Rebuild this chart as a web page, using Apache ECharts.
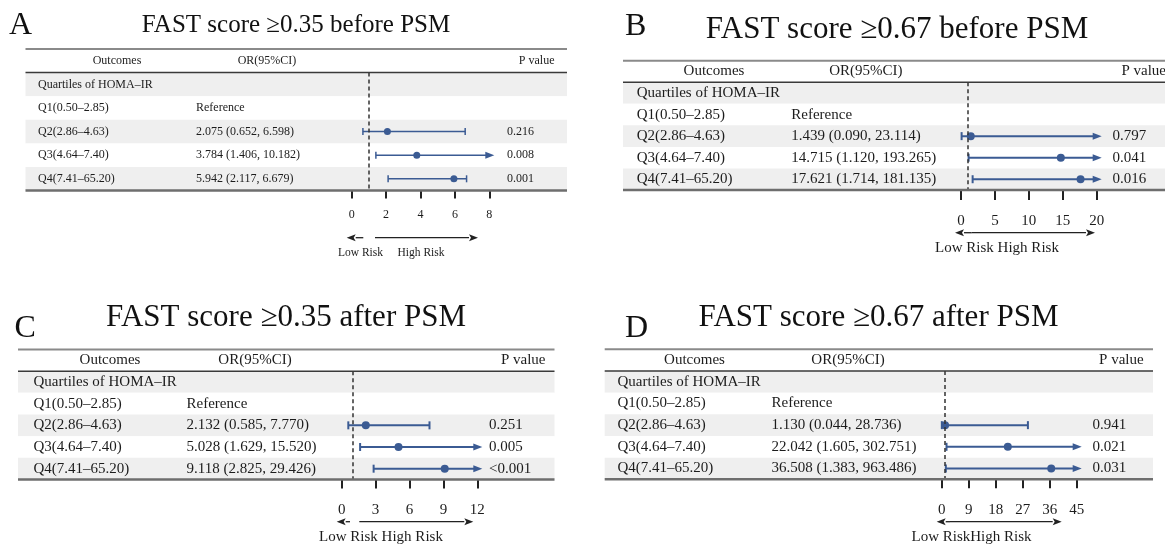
<!DOCTYPE html>
<html>
<head>
<meta charset="utf-8">
<title>Forest plots</title>
<script src="https://cdn.jsdelivr.net/npm/echarts@6/dist/echarts.min.js"></script>
<style>
  html, body { margin: 0; padding: 0; background: #fff; }
  #main { width: 1165px; height: 545px; }
</style>
</head>
<body>
<div id="main"></div>
<script>
// ---- data ----
let rowNames = ['Quartiles of HOMA–IR', 'Q1(0.50–2.85)', 'Q2(2.86–4.63)', 'Q3(4.64–7.40)', 'Q4(7.41–65.20)'];

let titleA = 'FAST score ≥0.35 before PSM';
let orA = [null, null, 2.075, 3.784, 5.942];
let loA = [null, null, 0.652, 1.406, 2.117];
let hiA = [null, null, 6.598, 10.182, 6.679];
let pA = ['', '', '0.216', '0.008', '0.001'];
let ticksA = [0, 2, 4, 6, 8];

let titleB = 'FAST score ≥0.67 before PSM';
let orB = [null, null, 1.439, 14.715, 17.621];
let loB = [null, null, 0.090, 1.120, 1.714];
let hiB = [null, null, 23.114, 193.265, 181.135];
let pB = ['', '', '0.797', '0.041', '0.016'];
let ticksB = [0, 5, 10, 15, 20];

let titleC = 'FAST score ≥0.35 after PSM';
let orC = [null, null, 2.132, 5.028, 9.118];
let loC = [null, null, 0.585, 1.629, 2.825];
let hiC = [null, null, 7.770, 15.520, 29.426];
let pC = ['', '', '0.251', '0.005', '<0.001'];
let ticksC = [0, 3, 6, 9, 12];

let titleD = 'FAST score ≥0.67 after PSM';
let orD = [null, null, 1.130, 22.042, 36.508];
let loD = [null, null, 0.044, 1.605, 1.383];
let hiD = [null, null, 28.736, 302.751, 963.486];
let pD = ['', '', '0.941', '0.021', '0.031'];
let ticksD = [0, 9, 18, 27, 36, 45];

let panels = [
    {letter: 'A', title: titleA, or: orA, lo: loA, hi: hiA, p: pA, ticks: ticksA, risk: ['Low Risk', 'High Risk']},
    {letter: 'B', title: titleB, or: orB, lo: loB, hi: hiB, p: pB, ticks: ticksB, risk: ['Low Risk High Risk']},
    {letter: 'C', title: titleC, or: orC, lo: loC, hi: hiC, p: pC, ticks: ticksC, risk: ['Low Risk High Risk']},
    {letter: 'D', title: titleD, or: orD, lo: loD, hi: hiD, p: pD, ticks: ticksD, risk: ['Low RiskHigh Risk']}
];

// ---- layout (pixels) ----
let layouts = [
    {letterX: 9, letterY: 26, titleX: 296, titleY: 25, titleSize: 25,
     tableL: 25.5, tableR: 567, top: 49, rowH: 23.6, font: 12,
     padL: 12.5, col1: 158, col2: 142, padR: 12.5, pW: 47.5,
     plotL: 351.7, plotR: 489.3, tickLen: 8, labelMargin: 18,
     arrowY: 237.7, arrowL: [346.7, 363.3], arrowR: [375, 478],
     riskY: 253, riskX: [360.5, 421], riskSize: 11.5, lw: 1.5, dot: 3.5, cap: 3.5},
    {letterX: 625, letterY: 27, titleX: 897, titleY: 30, titleSize: 31,
     tableL: 623, tableR: 1178, top: 60.7, rowH: 21.55, font: 15,
     padL: 13.7, col1: 154.6, col2: 149, padR: 12, pW: 53.5,
     plotL: 961, plotR: 1096.7, tickLen: 10, labelMargin: 24,
     arrowY: 232.7, arrowL: [955, 971.7], arrowR: [971.7, 1095],
     riskY: 248.3, riskX: [997], riskSize: 15, lw: 2, dot: 4, cap: 4},
    {letterX: 14.5, letterY: 329, titleX: 286, titleY: 318, titleSize: 31,
     tableL: 18, tableR: 554.5, top: 349.5, rowH: 21.67, font: 15,
     padL: 15.5, col1: 153, col2: 137, padR: 9, pW: 56.5,
     plotL: 341.7, plotR: 477.3, tickLen: 9, labelMargin: 23.5,
     arrowY: 521.7, arrowL: [336.7, 350], arrowR: [359.3, 473.3],
     riskY: 536.7, riskX: [381], riskSize: 15, lw: 2, dot: 4, cap: 4},
    {letterX: 625, letterY: 329, titleX: 878.5, titleY: 318, titleSize: 31,
     tableL: 604.7, tableR: 1153, top: 349.3, rowH: 21.67, font: 15,
     padL: 12.8, col1: 154, col2: 153, padR: 9.3, pW: 51.3,
     plotL: 941.7, plotR: 1076.7, tickLen: 9, labelMargin: 23.5,
     arrowY: 521.7, arrowL: [936.7, 950], arrowR: [950, 1061.7],
     riskY: 536.7, riskX: [971.5], riskSize: 15, lw: 2, dot: 4, cap: 4}
];

let serif = '"Liberation Serif", "Times New Roman", serif';
let ciColor = '#3b5b93';
let textColor = '#1c1c1c';

function orText(pn, i) {
    if (i === 1) return 'Reference';
    if (pn.or[i] == null) return '';
    return pn.or[i].toFixed(3) + ' (' + pn.lo[i].toFixed(3) + ', ' + pn.hi[i].toFixed(3) + ')';
}

function makeRender(L, max) {
    return function (params, api) {
        let row = api.value(0);
        let lo = api.value(1), or = api.value(2), hi = api.value(3);
        let over = hi > max;
        let pLo = api.coord([lo, row]);
        let pOr = api.coord([or, row]);
        let pHi = api.coord([over ? max : hi, row]);
        let y = pOr[1];
        let st = {stroke: ciColor, lineWidth: L.lw};
        let kids = [
            {type: 'line', shape: {x1: pLo[0], y1: y, x2: pHi[0], y2: y}, style: st},
            {type: 'line', shape: {x1: pLo[0], y1: y - L.cap, x2: pLo[0], y2: y + L.cap}, style: st}
        ];
        if (over) {
            let tip = pHi[0] + 5;
            kids.push({type: 'polygon', shape: {points: [[tip, y], [tip - 9, y - 3.5], [tip - 9, y + 3.5]]},
                style: {fill: ciColor}});
        } else {
            kids.push({type: 'line', shape: {x1: pHi[0], y1: y - L.cap, x2: pHi[0], y2: y + L.cap}, style: st});
        }
        kids.push({type: 'circle', shape: {cx: pOr[0], cy: y, r: L.dot}, style: {fill: ciColor}});
        return {type: 'group', children: kids};
    };
}

function arrow(x1, x2, y, dir) {
    // dir -1: head on the left, 1: head on the right
    let tip = dir < 0 ? x1 : x2;
    let base = tip - dir * 9;
    return [
        {type: 'line', z: 10, shape: {x1: dir < 0 ? base : x1, y1: y, x2: dir < 0 ? x2 : base, y2: y},
         style: {stroke: '#222', lineWidth: 1.3}},
        {type: 'polygon', z: 10, shape: {points: [[tip, y], [base, y - 3.5], [base + dir * 2, y], [base, y + 3.5]]},
         style: {fill: '#222'}}
    ];
}

let grids = [], xAxes = [], yAxes = [], series = [], graphics = [];
let tableRows = ['header'].concat(rowNames);

panels.forEach(function (pn, k) {
    let L = layouts[k];
    let ticks = pn.ticks;
    let max = ticks[ticks.length - 1];

    // table grid: shading + text columns
    let gT = grids.length;
    grids.push({left: L.tableL, width: L.tableR - L.tableL, top: L.top, height: L.rowH * 6, outerBoundsMode: 'none'});
    xAxes.push({gridIndex: gT, type: 'value', show: false});
    yAxes.push({
        gridIndex: gT, type: 'category', data: tableRows, inverse: true,
        axisLine: {show: false}, axisTick: {show: false}, splitLine: {show: false},
        splitArea: {show: true, interval: 0, areaStyle: {color: ['#ffffff', '#efefef']}},
        axisLabel: {
            inside: true, interval: 0, margin: L.padL,
            formatter: function (v, i) {
                if (i === 0) return '{ho|Outcomes}{hr|OR(95%CI)}';
                return '{o|' + rowNames[i - 1] + '}{r|' + orText(pn, i - 1) + '}';
            },
            rich: {
                ho: {width: L.col1, align: 'center', fontFamily: serif, fontSize: L.font, color: textColor},
                hr: {width: L.col2, align: 'center', fontFamily: serif, fontSize: L.font, color: textColor},
                o: {width: L.col1, align: 'left', fontFamily: serif, fontSize: L.font, color: textColor},
                r: {align: 'left', fontFamily: serif, fontSize: L.font, color: textColor}
            }
        }
    });
    yAxes.push({
        gridIndex: gT, type: 'category', data: tableRows, inverse: true, position: 'right',
        axisLine: {show: false}, axisTick: {show: false}, splitLine: {show: false},
        axisLabel: {
            inside: true, interval: 0, margin: L.padR,
            formatter: function (v, i) {
                if (i === 0) return '{hp|P value}';
                return pn.p[i - 1] ? '{p|' + pn.p[i - 1] + '}' : '';
            },
            rich: {
                hp: {width: L.pW, align: 'right', fontFamily: serif, fontSize: L.font, color: textColor},
                p: {width: L.pW, align: 'left', fontFamily: serif, fontSize: L.font, color: textColor}
            }
        }
    });

    // forest plot grid
    let gP = grids.length;
    grids.push({left: L.plotL, width: L.plotR - L.plotL, top: L.top + L.rowH, height: L.rowH * 5, outerBoundsMode: 'none'});
    xAxes.push({
        gridIndex: gP, type: 'value', min: ticks[0], max: max, interval: ticks[1] - ticks[0],
        axisLine: {show: false},
        axisTick: {show: true, length: L.tickLen, lineStyle: {color: '#222', width: 2}},
        splitLine: {show: false},
        axisLabel: {margin: L.labelMargin, fontFamily: serif, fontSize: L.font, color: textColor}
    });
    yAxes.push({gridIndex: gP, type: 'category', data: rowNames, inverse: true, show: false});

    let ciData = [];
    pn.or.forEach(function (v, i) {
        if (v != null) ciData.push([i, pn.lo[i], v, pn.hi[i]]);
    });
    series.push({
        type: 'custom', clip: false,
        xAxisIndex: xAxes.length - 1, yAxisIndex: yAxes.length - 1,
        encode: {x: [1, 2, 3], y: 0},
        renderItem: makeRender(L, max),
        data: ciData,
        markLine: {
            silent: true, symbol: ['none', 'none'], label: {show: false},
            lineStyle: {color: '#333', type: [4, 3], width: 1.5},
            data: [{xAxis: 1}]
        }
    });

    // table rules
    let rules = [[L.top, '#8a8a8a', 2], [L.top + L.rowH, '#3a3a3a', 1.5], [L.top + L.rowH * 6, '#6e6e6e', 2.5]];
    rules.forEach(function (r) {
        graphics.push({type: 'line', z: 10, shape: {x1: L.tableL, y1: r[0], x2: L.tableR, y2: r[0]},
            style: {stroke: r[1], lineWidth: r[2]}});
    });

    // letter and title
    graphics.push({type: 'text', z: 10, x: L.letterX, y: L.letterY,
        style: {text: pn.letter, fontFamily: serif, fontSize: 32, fill: '#111', align: 'left', verticalAlign: 'middle'}});
    graphics.push({type: 'text', z: 10, x: L.titleX, y: L.titleY,
        style: {text: pn.title, fontFamily: serif, fontSize: L.titleSize, fill: '#111', align: 'center', verticalAlign: 'middle'}});

    // risk arrows and labels
    graphics.push.apply(graphics, arrow(L.arrowL[0], L.arrowL[1], L.arrowY, -1));
    graphics.push.apply(graphics, arrow(L.arrowR[0], L.arrowR[1], L.arrowY, 1));
    pn.risk.forEach(function (t, j) {
        graphics.push({type: 'text', z: 10, x: L.riskX[j], y: L.riskY,
            style: {text: t, fontFamily: serif, fontSize: L.riskSize, fill: textColor, align: 'center', verticalAlign: 'middle'}});
    });
});

let myChart = echarts.init(document.getElementById('main'));
myChart.setOption({
    animation: false,
    backgroundColor: '#ffffff',
    grid: grids,
    xAxis: xAxes,
    yAxis: yAxes,
    series: series,
    graphic: graphics
});

window.addEventListener('resize', function () {
    myChart.resize();
});
</script>
</body>
</html>
